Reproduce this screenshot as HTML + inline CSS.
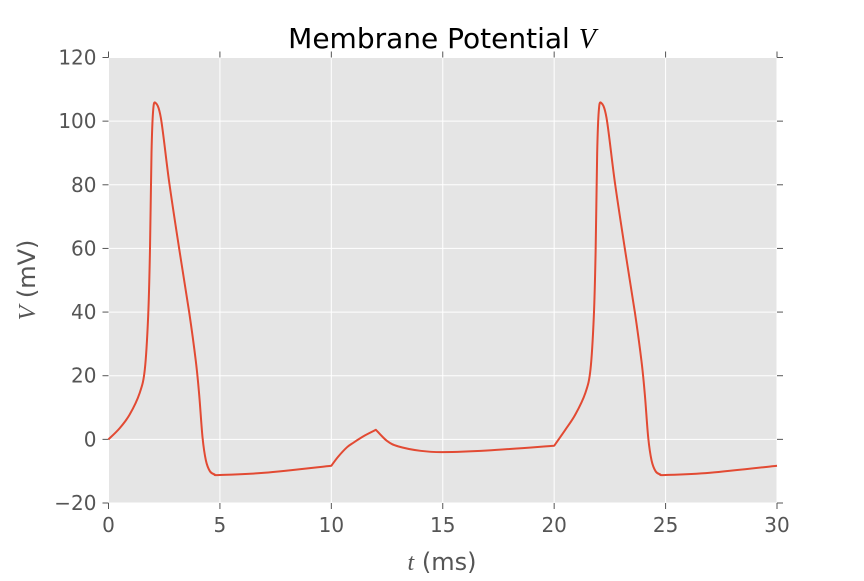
<!DOCTYPE html>
<html><head><meta charset="utf-8"><style>
html,body{margin:0;padding:0;background:#fff;}
svg text{font-family:"DejaVu Sans","Liberation Sans",sans-serif;}
</style></head><body>
<svg id="chart" width="864" height="576" viewBox="0 0 864 576" xmlns="http://www.w3.org/2000/svg">
<rect x="108.5" y="57.5" width="668.5" height="445.5" fill="#e5e5e5"/>
<g id="grid"></g>
<g id="ticks"></g>
<path id="line" fill="none" stroke="#e24a33" stroke-width="2" stroke-linejoin="round"/>
<text x="442" y="48" text-anchor="middle" font-size="28" fill="#000">Membrane Potential <tspan font-family="Liberation Serif, serif" font-style="italic">V</tspan></text>
<text x="442" y="570" text-anchor="middle" font-size="24" fill="#555"><tspan font-family="Liberation Serif, serif" font-style="italic">t</tspan> (ms)</text>
<text transform="translate(35,280) rotate(-90)" text-anchor="middle" font-size="24" fill="#555"><tspan font-family="Liberation Serif, serif" font-style="italic">V</tspan> (mV)</text>
</svg>
<script>
const xTicks=[0,5,10,15,20,25,30];
const yTicks=[-20,0,20,40,60,80,100,120];
const yTickLabels=["\u221220","0","20","40","60","80","100","120"];
const tVals=[0,0.5,0.95,1.4,1.63,1.78,1.86,1.93,2.0,2.1,2.35,2.72,3.17,3.62,3.92,4.07,4.22,4.37,4.55,4.75,5,7,10,10.3,10.7,11,11.5,12,12.5,13,14,15,17,20,
20.5,20.95,21.4,21.63,21.78,21.86,21.93,22.0,22.1,22.35,22.72,23.17,23.62,23.92,24.07,24.22,24.37,24.55,24.75,25,27,30];
const vVals=[0,3.5,7.8,14.6,22,38.7,59,90,103,105.8,101,81,60,40,24.5,14,0.6,-6.6,-10,-11,-11.2,-10.5,-8.3,-5.5,-2.5,-1,1.2,3,-0.5,-2.2,-3.6,-4,-3.5,-2,
3,7.8,14.6,22,38.7,59,90,103,105.8,101,81,60,40,24.5,14,0.6,-6.6,-10,-11,-11.2,-10.5,-8.3];
const cornerTimes=[10,12,20];
const L=108.5,R=777,T=57.5,B=503;
const xs=t=>L+(t-0)/30*(R-L);
const ys=v=>B-(v+20)/140*(B-T);
const NS="http://www.w3.org/2000/svg";
const grid=document.getElementById('grid'),ticks=document.getElementById('ticks');
function ln(p,x1,y1,x2,y2,c,w){const e=document.createElementNS(NS,'line');e.setAttribute('x1',x1);e.setAttribute('y1',y1);e.setAttribute('x2',x2);e.setAttribute('y2',y2);e.setAttribute('stroke',c);e.setAttribute('stroke-width',w);p.appendChild(e);return e;}
function tx(x,y,s,anchor){const e=document.createElementNS(NS,'text');e.setAttribute('x',x);e.setAttribute('y',y);e.setAttribute('text-anchor',anchor);e.setAttribute('font-size','20');e.setAttribute('fill','#555');e.textContent=s;ticks.appendChild(e);return e;}
xTicks.forEach(t=>{const x=xs(t);
 const g=ln(grid,x,T,x,B,'#fff',1);
 
 
 ln(ticks,x,B,x,B+6,'#555',1);ln(ticks,x,T,x,T-6,'#555',1);
 const l=tx(x,B+29,String(t),'middle');
 
 
});
yTicks.forEach((v,i)=>{const y=ys(v);
 const g=ln(grid,L,y,R,y,'#fff',1);
 
 
 ln(ticks,L-6,y,L,y,'#555',1);ln(ticks,R,y,R+6,y,'#555',1);
 const l=tx(L-12,y+7,yTickLabels[i],'end');
 
 
});
// split at corner times, smooth within segments
const segs=[];let cur=[];
tVals.forEach((t,i)=>{cur.push([xs(t),ys(vVals[i])]);
 if(cornerTimes.includes(t)&&i>0&&i<tVals.length-1){segs.push(cur);cur=[[xs(t),ys(vVals[i])]];}});
segs.push(cur);
let d='';
segs.forEach((pts,si)=>{
 if(si===0)d+='M'+pts[0][0]+','+pts[0][1];
 for(let i=0;i<pts.length-1;i++){
  const p0=pts[Math.max(i-1,0)],p1=pts[i],p2=pts[i+1],p3=pts[Math.min(i+2,pts.length-1)];
  const k=1/6;
  d+=' C'+(p1[0]+(p2[0]-p0[0])*k)+','+(p1[1]+(p2[1]-p0[1])*k)+' '+(p2[0]-(p3[0]-p1[0])*k)+','+(p2[1]-(p3[1]-p1[1])*k)+' '+p2[0]+','+p2[1];
 }
});
document.getElementById('line').setAttribute('d',d);
</script>
</body></html>
